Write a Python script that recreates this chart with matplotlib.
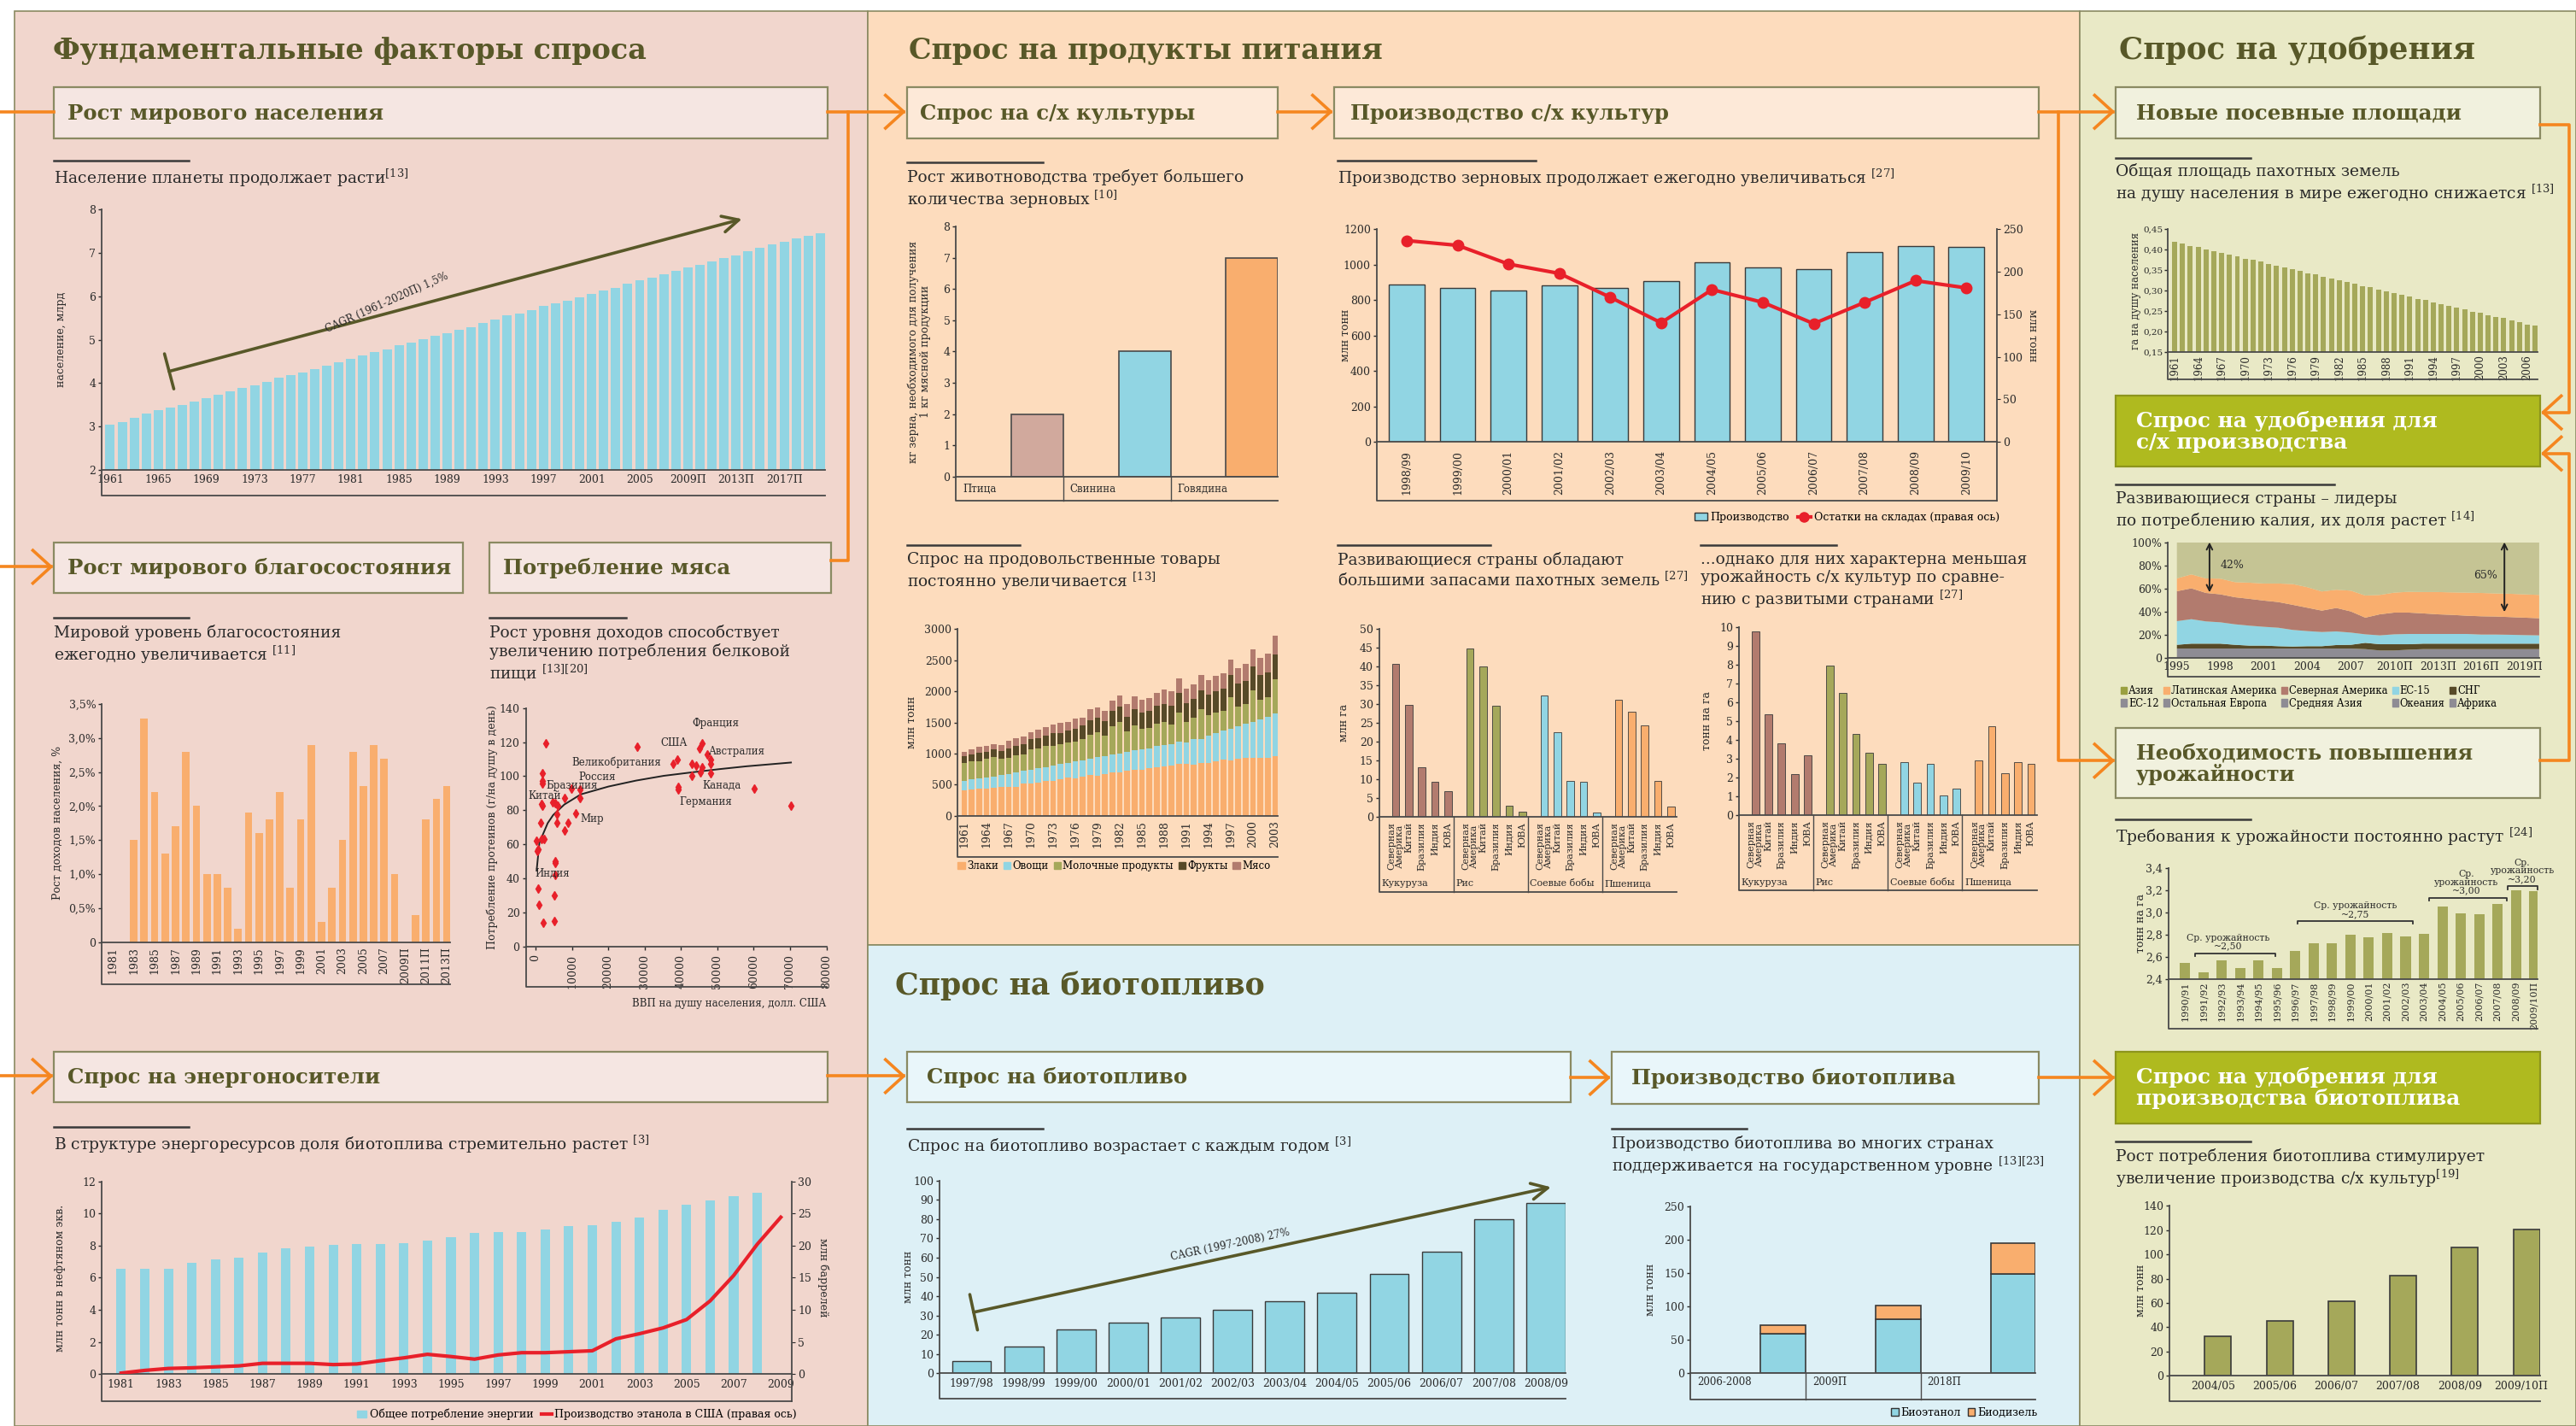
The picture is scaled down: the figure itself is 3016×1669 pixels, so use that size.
import numpy as np
import matplotlib
matplotlib.use("Agg")
import matplotlib.pyplot as plt
from matplotlib.patches import Rectangle, Patch
from matplotlib.lines import Line2D
from matplotlib.ticker import FuncFormatter

plt.rcParams['font.family'] = ['DejaVu Serif', 'DejaVu Sans']
plt.rcParams['mathtext.fontset'] = 'dejavuserif'
plt.rcParams['axes.linewidth'] = 1.3

# ---------------- data ----------------
pop_labels = ['1961', '1965', '1969', '1973', '1977', '1981', '1985', '1989', '1993', '1997',
              '2001', '2005', '2009П', '2013П', '2017П']
pop_values = [3.05, 3.11, 3.19, 3.29, 3.37, 3.43, 3.50, 3.58, 3.65, 3.73, 3.80, 3.88, 3.95, 4.03,
              4.12, 4.19, 4.25, 4.33, 4.40, 4.48, 4.55, 4.63, 4.72, 4.77, 4.87, 4.94, 5.02, 5.08,
              5.15, 5.23, 5.29, 5.38, 5.47, 5.56, 5.60, 5.68, 5.77, 5.84, 5.90, 5.98, 6.05, 6.13,
              6.19, 6.29, 6.37, 6.43, 6.50, 6.59, 6.67, 6.73, 6.80, 6.89, 6.94, 7.04, 7.12, 7.19,
              7.25, 7.33, 7.40, 7.45]

wealth_labels = ['1981', '1983', '1985', '1987', '1989', '1991', '1993', '1995', '1997', '1999',
                 '2001', '2003', '2005', '2007', '2009П', '2011П', '2013П']
wealth_growth = [0, 0, 1.5, 3.28, 2.2, 1.3, 1.7, 2.8, 2.0, 1.0, 1.0, 0.8, 0.2, 1.9, 1.6, 1.8, 2.2,
                 0.8, 1.8, 2.9, 0.3, 0.8, 1.5, 2.8, 2.3, 2.9, 2.7, 1.0, 0, 0.4, 1.8, 2.1, 2.3]

meat_gdp = [2890, 1825, 1825, 1825, 1673, 1825, 1520, 300, 600, 456, 2280, 1673, 608, 912, 2130,
            5170, 5170, 5320, 5320, 5320, 5780, 5475, 4715, 6080, 5780, 7910, 7910, 8970, 9890,
            10950, 12170, 12170, 27990, 37720, 38940, 39240, 39240, 43040, 42890, 44110, 45170,
            45930, 47150, 45330, 45930, 48060, 48060, 48060, 60080, 70270]
meat_protein = [119.3, 101.8, 97, 95.8, 83.5, 82.4, 72.8, 61.8, 57, 56, 63.2, 62.8, 34, 24.4, 13.6,
                14.8, 29.8, 41.7, 50, 48.8, 72.4, 83.9, 84.5, 82.4, 77.8, 68.2, 87.2, 72.8, 92.6,
                78, 87.2, 92.4, 117.5, 107, 109.5, 93.5, 92, 107, 100.2, 106, 116.2, 119.3, 112.7,
                102.2, 105, 109.8, 107, 101.8, 92.6, 82.6]
trend_gdp = [300, 1065, 3350, 4870, 7910, 12470, 20080, 27680, 35280, 42890, 50490, 58100, 70270]
trend_protein = [44.5, 60.9, 72.4, 77.2, 83.3, 89.3, 93.9, 97.4, 100.2, 102.2, 104.1, 105.8, 108.0]
meat_names = ['Франция', 'США', 'Австралия', 'Великобритания', 'Россия', 'Бразилия', 'Китай',
              'Мир', 'Канада', 'Германия', 'Индия']
meat_name_gdp = [49430, 38020, 55510, 22360, 17030, 9890, 2590, 15510, 51250, 46690, 4560]
meat_name_protein = [131, 119.4, 114.3, 108, 99.3, 94.3, 88.3, 74.7, 94.3, 84.9, 42.6]

energy_labels = ['1981', '1983', '1985', '1987', '1989', '1991', '1993', '1995', '1997', '1999',
                 '2001', '2003', '2005', '2007', '2009']
energy_total = [6.58, 6.53, 6.58, 6.95, 7.16, 7.27, 7.59, 7.85, 7.96, 8.06, 8.12, 8.12, 8.17, 8.33,
                8.54, 8.81, 8.86, 8.86, 9.02, 9.23, 9.28, 9.49, 9.76, 10.24, 10.55, 10.82, 11.08, 11.29]
ethanol_us = [0.18, 0.6, 0.9, 1.0, 1.15, 1.3, 1.7, 1.7, 1.7, 1.5, 1.6, 2.1, 2.55, 3.1, 2.75, 2.35,
              3.0, 3.35, 3.35, 3.5, 3.65, 5.5, 6.3, 7.2, 8.5, 11.4, 15.35, 20.2, 24.4]

meat_kinds = ['Птица', 'Свинина', 'Говядина']
grain_per_kg = [2, 4, 7]

grain_seasons = ['1998/99', '1999/00', '2000/01', '2001/02', '2002/03', '2003/04', '2004/05',
                 '2005/06', '2006/07', '2007/08', '2008/09', '2009/10']
grain_production = [887, 871, 855, 881, 871, 908, 1012, 982, 975, 1073, 1104, 1099]
grain_stocks = [236.6, 231, 209, 198, 170, 140, 179, 164, 139, 164, 189.5, 181]

food_labels = ['1961', '1964', '1967', '1970', '1973', '1976', '1979', '1982', '1985', '1988',
               '1991', '1994', '1997', '2000', '2003']
food_cereals = [402, 416, 430, 430, 444, 466, 466, 466, 512, 512, 526, 553, 553, 581, 608, 599,
                622, 649, 636, 663, 691, 691, 718, 732, 732, 759, 773, 787, 800, 828, 828, 819,
                841, 841, 869, 896, 883, 910, 937, 937, 937, 937, 956]
food_vegetables = [151, 165, 165, 178, 178, 183, 197, 224, 206, 220, 233, 220, 247, 247, 233, 270,
                   261, 261, 302, 288, 288, 302, 302, 316, 329, 329, 343, 343, 357, 357, 343, 407,
                   398, 453, 466, 480, 521, 535, 549, 576, 617, 659, 695]
food_dairy = [288, 288, 284, 302, 316, 261, 274, 288, 261, 329, 329, 343, 329, 329, 343, 329, 343,
              398, 398, 343, 466, 521, 343, 398, 343, 329, 370, 384, 316, 480, 343, 357, 480, 329,
              329, 316, 508, 316, 316, 508, 316, 316, 549]
food_fruits = [123, 110, 128, 110, 123, 137, 151, 151, 178, 165, 165, 178, 206, 178, 192, 206, 220,
               233, 247, 233, 247, 247, 233, 274, 261, 274, 288, 288, 302, 316, 302, 302, 302, 329,
               343, 357, 357, 370, 370, 384, 398, 398, 398]
food_meat = [69, 91, 96, 96, 96, 96, 123, 123, 123, 123, 137, 137, 137, 165, 137, 165, 137, 178,
             165, 165, 165, 178, 206, 206, 206, 206, 206, 233, 233, 233, 233, 233, 247, 233, 247,
             242, 247, 247, 274, 274, 274, 302, 302]

crop_groups = ['Кукуруза', 'Рис', 'Соевые бобы', 'Пшеница']
crop_countries = ['Северная\nАмерика', 'Китай', 'Бразилия', 'Индия', 'ЮВА']
arable_area = [[40.7, 29.9, 13.1, 9.3, 6.7],
               [44.8, 40.0, 29.6, 2.9, 1.2],
               [32.4, 22.6, 9.4, 9.2, 1.0],
               [31.2, 28.0, 24.4, 9.4, 2.7]]
crop_yield = [[9.74, 5.37, 3.82, 2.19, 3.19],
              [7.92, 6.51, 4.31, 3.29, 2.73],
              [2.79, 1.70, 2.72, 1.02, 1.38],
              [2.91, 4.73, 2.20, 2.82, 2.72]]

biofuel_seasons = ['1997/98', '1998/99', '1999/00', '2000/01', '2001/02', '2002/03', '2003/04',
                   '2004/05', '2005/06', '2006/07', '2007/08', '2008/09']
biofuel_demand = [6.4, 14.0, 23.0, 26.5, 28.9, 33.1, 37.3, 42.0, 51.6, 63.2, 79.9, 88.3]

biofuel_periods = ['2006-2008', '2009П', '2018П']
bioethanol = [60, 81, 149]
biodiesel = [12, 21, 46]

arable_years = ['1961', '1964', '1967', '1970', '1973', '1976', '1979', '1982', '1985', '1988',
                '1991', '1994', '1997', '2000', '2003', '2006']
arable_per_capita = [0.420, 0.416, 0.410, 0.408, 0.401, 0.397, 0.393, 0.389, 0.385, 0.379, 0.376,
                     0.372, 0.365, 0.361, 0.358, 0.353, 0.349, 0.343, 0.340, 0.334, 0.331, 0.326,
                     0.322, 0.317, 0.312, 0.309, 0.303, 0.299, 0.295, 0.291, 0.286, 0.280, 0.278,
                     0.271, 0.268, 0.264, 0.259, 0.255, 0.249, 0.247, 0.241, 0.236, 0.234, 0.228,
                     0.224, 0.218, 0.216]

potash_labels = ['1995', '1998', '2001', '2004', '2007', '2010П', '2013П', '2016П', '2019П']
# cumulative share (top edge of each layer), %
potash_other_top = [7.9, 7.9, 7.9, 7.9, 7.9, 7.9, 7.9, 7.9, 7.9, 7.9, 7.9, 7.9, 7.9, 7.4, 6.2, 6.2,
                    6.9, 7.4, 7.4, 7.4, 7.4, 7.4, 7.4, 7.4, 7.4, 7.4]
potash_cis_top = [11.1, 12.1, 12.1, 12.1, 11.1, 10.4, 10.4, 9.9, 9.6, 9.9, 9.9, 10.9, 11.1, 12.8,
                  11.6, 11.6, 11.6, 12.1, 12.1, 12.1, 12.1, 12.1, 12.1, 12.1, 12.1, 12.1]
potash_eu15_top = [31.6, 33.3, 31.4, 30.6, 28.9, 27.7, 26.7, 25.9, 24.0, 23.0, 22.2, 22.7, 21.7,
                   20.2, 19.3, 20.2, 20.5, 20.5, 20.5, 20.5, 20.5, 20.0, 20.0, 19.8, 19.5, 19.3]
potash_na_top = [57.5, 60.0, 56.0, 54.8, 52.3, 50.9, 49.4, 48.1, 45.7, 43.2, 40.7, 43.0, 40.0, 34.6,
                 37.5, 39.0, 39.0, 38.3, 37.5, 37.0, 36.3, 35.8, 35.6, 35.1, 34.6, 34.1]
potash_la_top = [68.6, 72.1, 68.6, 68.4, 65.4, 64.9, 64.2, 64.2, 63.7, 61.0, 57.3, 58.8, 58.0, 53.8,
                 54.3, 56.3, 57.0, 56.8, 56.8, 56.5, 56.3, 56.0, 55.6, 55.3, 54.8, 54.3]
potash_regions = ['Азия', 'Латинская Америка', 'Северная Америка', 'ЕС-15', 'СНГ',
                  'ЕС-12', 'Остальная Европа', 'Средняя Азия', 'Океания', 'Африка']

yield_seasons = ['1990/91', '1991/92', '1992/93', '1993/94', '1994/95', '1995/96', '1996/97',
                 '1997/98', '1998/99', '1999/00', '2000/01', '2001/02', '2002/03', '2003/04',
                 '2004/05', '2005/06', '2006/07', '2007/08', '2008/09', '2009/10П']
yield_required = [2.545, 2.455, 2.563, 2.50, 2.563, 2.50, 2.655, 2.717, 2.723, 2.794, 2.778, 2.815,
                  2.785, 2.809, 3.055, 2.994, 2.985, 3.077, 3.20, 3.194]

biocrop_seasons = ['2004/05', '2005/06', '2006/07', '2007/08', '2008/09', '2009/10П']
biocrop_use = [32.8, 45.5, 61.7, 82.6, 106, 120.8]

# ---------------- style ----------------
PINK, PEACH, SKY, KHAKI = '#f1d6cd', '#fddcbd', '#ddf0f6', '#e9e9c6'
PINK_BOX, PEACH_BOX, SKY_BOX, KHAKI_BOX = '#f5e6e2', '#fde9d8', '#e9f6fa', '#f1f1de'
TITLE = '#585828'
TXT = '#2a2a2a'
AX = '#4a4a4a'
BLUE = '#91d5e3'
ORANGE_BAR = '#f9ae6e'
BROWN = '#b27b6e'
OLIVE = '#a5a85a'
ROSE = '#d1a99d'
DARK = '#574a28'
RED = '#e8202a'
ORANGE = '#f5861f'
GREEN = '#afba1f'
GREY = '#8e8c94'

W0, H0 = 1568.0, 868.0


def P(x, y):
    return x / W0, 1 - y / H0


def R(x0, y0, x1, y1):
    return [x0 / W0, 1 - y1 / H0, (x1 - x0) / W0, (y1 - y0) / H0]


fig = plt.figure(figsize=(30.16, 16.69), dpi=100)
fig.patch.set_facecolor('white')


def box(x0, y0, x1, y1, fc, ec='#8a8a62', lw=1.4, z=0):
    fig.add_artist(Rectangle(P(x0, y1), (x1 - x0) / W0, (y1 - y0) / H0, transform=fig.transFigure,
                             facecolor=fc, edgecolor=ec, lw=lw, zorder=z))


def header(x0, y0, x1, y1, text, fc, color=TITLE, ec='#8a8a62', dx=10, size=17.6):
    box(x0, y0, x1, y1, fc, ec=ec, lw=1.6, z=1)
    fig.text(*P(x0 + dx, (y0 + y1) / 2 + 0.5), text, color=color, fontsize=size, fontweight='bold',
             ha='left', va='center', linespacing=1.05, zorder=2)


def subtitle(x0, x1, y, text):
    fig.add_artist(Line2D([x0 / W0, x1 / W0], [1 - y / H0] * 2, transform=fig.transFigure,
                          color='#3a3a3a', lw=1.8))
    fig.text(*P(x0, y + 4), text, fontsize=13.5, ha='left', va='top', color=TXT, linespacing=1.2)


def oline(pts):
    fig.add_artist(Line2D([p[0] / W0 for p in pts], [1 - p[1] / H0 for p in pts],
                          transform=fig.transFigure, color=ORANGE, lw=2.6))


def chev(x, y, d=1):
    oline([(x - 11 * d, y - 10), (x, y), (x - 11 * d, y + 10)])


def add_ax(x0, y0, x1, y1, lower=None, right=False):
    ax = fig.add_axes(R(x0, y0, x1, y1))
    ax.set_facecolor('none')
    ax.spines['top'].set_visible(False)
    ax.spines['right'].set_visible(False)
    for s in ('left', 'bottom'):
        ax.spines[s].set_color(AX)
    ax.tick_params(colors=TXT, labelsize=9, length=3, width=1, pad=2)
    ax.tick_params(axis='x', length=0, pad=4)
    if lower is not None:
        k = (lower - y1) / (y1 - y0)
        ax.plot([0, 0, 1], [0, -k, -k], transform=ax.transAxes, clip_on=False, color=AX, lw=1.3)
        if right:
            ax.plot([1, 1], [0, -k], transform=ax.transAxes, clip_on=False, color=AX, lw=1.3)
    ax.box_px = (x0, y0, x1, y1)
    return ax


def ylabel(ax, text, x, rot=90, size=9):
    x0, y0, x1, y1 = ax.box_px
    ax.text((x - x0) / (x1 - x0), 0.5, text, transform=ax.transAxes, rotation=rot,
            ha='center', va='center', fontsize=size, color=TXT, linespacing=1.1)


def comma(fmt):
    return FuncFormatter(lambda v, p: fmt.format(v).replace('.', ','))


# ---------------- background panels ----------------
box(9, 7, 528, 868, PINK, ec='#8a8a62', lw=1.2)
box(528, 7, 1266, 575, PEACH, ec='#8a8a62', lw=1.2)
box(528, 575, 1266, 868, SKY, ec='#8a8a62', lw=1.2)
box(1266, 7, 1568, 868, KHAKI, ec='#8a8a62', lw=1.2)

for x, y, t, s in [(32, 31, 'Фундаментальные факторы спроса', 24),
                   (553, 31, 'Спрос на продукты питания', 24),
                   (1290, 31, 'Спрос на удобрения', 25.5),
                   (545, 600, 'Спрос на биотопливо', 25)]:
    fig.text(*P(x, y), t, fontsize=s, fontweight='bold', color=TITLE, ha='left', va='center')

# ---------------- connectors ----------------
oline([(0, 68), (33, 68)])
oline([(504, 68), (550, 68)]); chev(550, 68)
oline([(516, 68), (516, 341), (506, 341)])
oline([(0, 345), (31, 345)]); chev(31, 345)
oline([(0, 655), (31, 655)]); chev(31, 655)
oline([(504, 655), (550, 655)]); chev(550, 655)
oline([(778, 68), (810, 68)]); chev(810, 68)
oline([(1241, 68), (1286, 68)]); chev(1286, 68)
oline([(1253, 68), (1253, 463), (1286, 463)]); chev(1286, 463)
oline([(956, 656), (979, 656)]); chev(979, 656)
oline([(1241, 656), (1286, 656)]); chev(1286, 656)
oline([(1546, 76), (1564, 76), (1564, 251), (1548, 251)]); chev(1548, 251, -1)
oline([(1546, 463), (1564, 463), (1564, 276), (1548, 276)]); chev(1548, 276, -1)

# ---------------- headers ----------------
header(33, 53, 504, 84, 'Рост мирового населения', PINK_BOX, dx=8)
header(33, 330, 282, 361, 'Рост мирового благосостояния', PINK_BOX, dx=8)
header(298, 330, 506, 361, 'Потребление мяса', PINK_BOX, dx=8)
header(33, 640, 504, 671, 'Спрос на энергоносители', PINK_BOX, dx=8)
header(552, 53, 778, 84, 'Спрос на с/х культуры', PEACH_BOX, dx=8)
header(812, 53, 1241, 84, 'Производство с/х культур', PEACH_BOX)
header(1288, 53, 1546, 84, 'Новые посевные площади', KHAKI_BOX, dx=12)
header(1288, 241, 1546, 284, 'Спрос на удобрения для\nс/х производства', GREEN, color='white',
       ec='#8d951c', dx=12, size=17.8)
header(1288, 443, 1546, 486, 'Необходимость повышения\nурожайности', KHAKI_BOX, dx=12, size=17.3)
header(1288, 640, 1546, 684, 'Спрос на удобрения для\nпроизводства биотоплива', GREEN,
       color='white', ec='#8d951c', dx=12, size=17.8)
header(552, 640, 956, 671, 'Спрос на биотопливо', SKY_BOX, dx=12)
header(981, 640, 1241, 672, 'Производство биотоплива', SKY_BOX, dx=12)

# ---------------- subtitles ----------------
subtitle(33, 115, 98, 'Население планеты продолжает расти$^{[13]}$')
subtitle(33, 115, 376, 'Мировой уровень благосостояния\nежегодно увеличивается $^{[11]}$')
subtitle(298, 381, 376, 'Рост уровня доходов способствует\nувеличению потребления белковой\nпищи $^{[13][20]}$')
subtitle(33, 115, 686, 'В структуре энергоресурсов доля биотоплива стремительно растет $^{[3]}$')
subtitle(552, 635, 99, 'Рост животноводства требует большего\nколичества зерновых $^{[10]}$')
subtitle(814, 935, 98, 'Производство зерновых продолжает ежегодно увеличиваться $^{[27]}$')
subtitle(552, 621, 332, 'Спрос на продовольственные товары\nпостоянно увеличивается $^{[13]}$')
subtitle(814, 907, 332, 'Развивающиеся страны обладают\nбольшими запасами пахотных земель $^{[27]}$')
subtitle(1035, 1118, 332, '...однако для них характерна меньшая\nурожайность с/х культур по сравне-\nнию с развитыми странами $^{[27]}$')
subtitle(552, 635, 687, 'Спрос на биотопливо возрастает с каждым годом $^{[3]}$')
subtitle(981, 1063, 687, 'Производство биотоплива во многих странах\nподдерживается на государственном уровне $^{[13][23]}$')
subtitle(1288, 1370, 96, 'Общая площадь пахотных земель\nна душу населения в мире ежегодно снижается $^{[13]}$')
subtitle(1288, 1421, 295, 'Развивающиеся страны – лидеры\nпо потреблению калия, их доля растет $^{[14]}$')
subtitle(1288, 1370, 499, 'Требования к урожайности постоянно растут $^{[24]}$')
subtitle(1288, 1370, 695, 'Рост потребления биотоплива стимулирует\nувеличение производства с/х культур$^{[19]}$')

# ---------------- population ----------------
ax = add_ax(62, 127.5, 502, 286, lower=301.5)
x = np.arange(len(pop_values))
ax.bar(x, pop_values, width=0.78, color=BLUE)
ax.set_xlim(-0.69, len(pop_values) - 0.63)
ax.set_ylim(2, 8)
ax.set_yticks(range(2, 9))
ax.set_xticks(x[::4])
ax.set_xticklabels(pop_labels)
ylabel(ax, 'население, млрд', 37)
ax.annotate('', xy=(52.5, 7.78), xytext=(4.9, 4.27),
            arrowprops=dict(arrowstyle=']->, widthA=0.45, lengthA=0', color=TITLE, lw=2.6,
                            mutation_scale=34, shrinkA=0, shrinkB=0))
ax.text(23.0, 5.85, 'CAGR (1961-2020П) 1,5%', rotation=24, ha='center', va='center', fontsize=8.5,
        color=TXT, rotation_mode='anchor')

# ---------------- wealth ----------------
ax = add_ax(62, 428.5, 274, 573.5, lower=599)
x = np.arange(len(wealth_growth))
ax.bar(x, wealth_growth, width=0.72, color=ORANGE_BAR)
ax.set_xlim(-1.06, len(wealth_growth) - 0.68)
ax.set_ylim(0, 3.5)
ax.set_yticks(np.arange(0, 3.51, 0.5))
ax.yaxis.set_major_formatter(FuncFormatter(lambda v, p: '0' if v == 0 else f'{v:.1f}%'.replace('.', ',')))
ax.set_xticks(x[::2])
ax.set_xticklabels(wealth_labels, rotation=90, va='top')
ylabel(ax, 'Рост доходов населения, %', 35)

# ---------------- meat ----------------
ax = add_ax(320, 431, 503, 576, lower=600.5)
ax.plot(trend_gdp, trend_protein, color='#222222', lw=1.4)
ax.plot(meat_gdp, meat_protein, 'd', color=RED, ms=5.5, mec=RED)
for n, gx, gy in zip(meat_names, meat_name_gdp, meat_name_protein):
    ax.text(gx, gy, n, fontsize=8.5, ha='center', va='center', color=TXT)
ax.set_xlim(-2700, 80000)
ax.set_ylim(0, 140)
ax.set_yticks(range(0, 141, 20))
ax.set_xticks(range(0, 80001, 10000))
ax.set_xticklabels([str(v) for v in range(0, 80001, 10000)], rotation=90, va='top')
ax.tick_params(axis='x', length=3)
ylabel(ax, 'Потребление протеинов (г/на душу в день)', 299.5)
fig.text(*P(503, 611), 'ВВП на душу населения, долл. США', fontsize=8.5, ha='right', va='center', color=TXT)

# ---------------- energy ----------------
ax = add_ax(62, 719, 482, 836.5, lower=853, right=True)
x = np.arange(len(ethanol_us))
ax.bar(np.arange(len(energy_total)), energy_total, width=0.4, color=BLUE)
ax.set_xlim(-0.82, len(ethanol_us) - 0.53)
ax.set_ylim(0, 12)
ax.set_yticks(range(0, 13, 2))
ax.set_xticks(x[::2])
ax.set_xticklabels(energy_labels)
ylabel(ax, 'млн тонн в нефтяном экв.', 36.4)
ax2 = ax.twinx()
ax2.set_facecolor('none')
for s in ('top', 'left', 'bottom'):
    ax2.spines[s].set_visible(False)
ax2.spines['right'].set_color(AX)
ax2.plot(x, ethanol_us, color=RED, lw=3)
ax2.set_ylim(0, 30)
ax2.set_yticks(range(0, 31, 5))
ax2.tick_params(colors=TXT, labelsize=9, length=3, pad=2)
ylabel(ax, 'млн баррелей', 501, rot=270)
fig.legend([Patch(color=BLUE), Line2D([], [], color=RED, lw=3)],
           ['Общее потребление энергии', 'Производство этанола в США (правая ось)'],
           loc='center right', bbox_to_anchor=P(485, 861), ncol=2, frameon=False, fontsize=9,
           handlelength=0.9, handletextpad=0.3, columnspacing=0.8, borderpad=0, borderaxespad=0)

# ---------------- grain per kg meat ----------------
ax = add_ax(582, 138, 778, 290, lower=305)
ax.bar(np.arange(3) + 0.757, grain_per_kg, width=0.485, color=[ROSE, BLUE, ORANGE_BAR],
       edgecolor='#4a4a4a', lw=1.2)
ax.set_xlim(0, 3)
ax.set_ylim(0, 8)
ax.set_yticks(range(0, 9))
ax.set_xticks([])
k = (305 - 290) / (290 - 138)
for i, name in enumerate(meat_kinds):
    ax.text(i + 0.06, -0.03, name, transform=ax.get_xaxis_transform(), ha='left', va='top',
            fontsize=8.5, color=TXT)
    if i > 0:
        ax.plot([i, i], [0, -k], transform=ax.get_xaxis_transform(), clip_on=False, color=AX, lw=1)
ylabel(ax, 'кг зерна, необходимого для получения\n1 кг мясной продукции', 559.5)

# ---------------- grain production ----------------
ax = add_ax(838, 139.5, 1215.5, 269, lower=304.7, right=True)
x = np.arange(len(grain_production))
ax.bar(x, grain_production, width=0.7, color=BLUE, edgecolor='#3a3a3a', lw=1)
ax.set_xlim(-0.59, len(x) - 0.4)
ax.set_ylim(0, 1200)
ax.set_yticks(range(0, 1201, 200))
ax.set_xticks(x)
ax.set_xticklabels(grain_seasons, rotation=90, va='top')
ax.tick_params(axis='x', pad=7)
ylabel(ax, 'млн тонн', 819)
ax2 = ax.twinx()
ax2.set_facecolor('none')
for s in ('top', 'left', 'bottom'):
    ax2.spines[s].set_visible(False)
ax2.spines['right'].set_color(AX)
ax2.plot(x, grain_stocks, color=RED, lw=3, marker='o', ms=9)
ax2.set_ylim(0, 250)
ax2.set_yticks(range(0, 251, 50))
ax2.tick_params(colors=TXT, labelsize=9, length=3, pad=2)
ylabel(ax, 'млн тонн', 1237, rot=270)
fig.legend([Patch(facecolor=BLUE, edgecolor='#333333'),
            Line2D([], [], color=RED, lw=3, marker='o', ms=8)],
           ['Производство', 'Остатки на складах (правая ось)'],
           loc='center right', bbox_to_anchor=P(1217, 315), ncol=2, frameon=False, fontsize=9,
           handlelength=1.2, handletextpad=0.3, columnspacing=0.8, borderpad=0, borderaxespad=0)

# ---------------- food demand ----------------
ax = add_ax(583, 383, 778, 496.5, lower=521.5)
x = np.arange(len(food_cereals))
bottom = np.zeros(len(x))
food_colors = [ORANGE_BAR, BLUE, OLIVE, DARK, BROWN]
for vals, col in zip([food_cereals, food_vegetables, food_dairy, food_fruits, food_meat], food_colors):
    ax.bar(x, vals, width=0.77, bottom=bottom, color=col)
    bottom += np.array(vals)
ax.set_xlim(-0.89, len(x) - 0.61)
ax.set_ylim(0, 3000)
ax.set_yticks(range(0, 3001, 500))
ax.set_xticks(x[::3])
ax.set_xticklabels(food_labels, rotation=90, va='top')
ylabel(ax, 'млн тонн', 555)
fig.legend([Patch(color=c) for c in food_colors],
           ['Злаки', 'Овощи', 'Молочные продукты', 'Фрукты', 'Мясо'],
           loc='center left', bbox_to_anchor=P(583, 527), ncol=5, frameon=False, fontsize=8.5,
           handlelength=0.7, handletextpad=0.2, columnspacing=0.5, borderpad=0, borderaxespad=0)


# ---------------- arable land / yields in developing countries ----------------
def group_chart(box_px, lower, data, ymax, ystep, label, label_x, group_y):
    ax = add_ax(*box_px, lower=lower)
    x0, y0, x1, y1 = box_px
    colors = [BROWN, OLIVE, BLUE, ORANGE_BAR]
    for g, vals in enumerate(data):
        xs = g * 5 + 1.1 + 0.88 * np.arange(len(vals))
        ax.bar(xs, vals, width=0.5, color=colors[g], edgecolor='#3a3a3a', lw=0.6)
        for xb, name in zip(xs, crop_countries):
            ax.text(xb, -0.03, name, transform=ax.get_xaxis_transform(), rotation=90, ha='center',
                    va='top', fontsize=8, color=TXT, linespacing=0.9)
        ax.text(g * 5 + 0.15, -(group_y - y1) / (y1 - y0), crop_groups[g],
                transform=ax.get_xaxis_transform(), ha='left', va='center', fontsize=8, color=TXT)
        if g > 0:
            ax.plot([g * 5, g * 5], [0, -(lower - y1) / (y1 - y0)], transform=ax.get_xaxis_transform(),
                    clip_on=False, color=AX, lw=1)
    ax.set_xlim(0, 20)
    ax.set_ylim(0, ymax)
    ax.set_yticks(np.arange(0, ymax + 0.01, ystep))
    ax.set_xticks([])
    ylabel(ax, label, label_x)


group_chart((839.5, 383, 1020.5, 497), 543, arable_area, 50, 5, 'млн га', 818, 538)
group_chart((1058.5, 381.6, 1239.7, 496), 542, crop_yield, 10, 1, 'тонн на га', 1039, 537)

# ---------------- biofuel demand ----------------
ax = add_ax(572, 718.5, 953, 836, lower=851.6)
x = np.arange(len(biofuel_demand))
ax.bar(x, biofuel_demand, width=0.75, color=BLUE, edgecolor='#3a3a3a', lw=1)
ax.set_xlim(-0.61, len(x) - 0.62)
ax.set_ylim(0, 100)
ax.set_yticks(range(0, 101, 10))
ax.set_xticks(x)
ax.set_xticklabels(biofuel_seasons)
ylabel(ax, 'млн тонн', 553)
ax.annotate('', xy=(11.1, 96.5), xytext=(0.04, 31.7),
            arrowprops=dict(arrowstyle=']->, widthA=0.45, lengthA=0', color=TITLE, lw=2.6,
                            mutation_scale=34, shrinkA=0, shrinkB=0))
ax.text(4.95, 66.5, 'CAGR (1997-2008) 27%', rotation=12, ha='center', va='center', fontsize=8.5,
        color=TXT)

# ---------------- biofuel production ----------------
ax = add_ax(1029, 734.4, 1239, 836, lower=852)
xc = np.arange(3) + 0.805
ax.bar(xc, bioethanol, width=0.39, color=BLUE, edgecolor='#3a3a3a', lw=1.2)
ax.bar(xc, biodiesel, width=0.39, bottom=bioethanol, color=ORANGE_BAR, edgecolor='#3a3a3a', lw=1.2)
ax.set_xlim(0, 3)
ax.set_ylim(0, 250)
ax.set_yticks(range(0, 251, 50))
ax.set_xticks([])
k = (852 - 836) / (836 - 734.4)
for i, name in enumerate(biofuel_periods):
    ax.text(i + 0.06, -0.05, name, transform=ax.get_xaxis_transform(), ha='left', va='center',
            fontsize=8.5, color=TXT)
    if i > 0:
        ax.plot([i, i], [0, -k], transform=ax.get_xaxis_transform(), clip_on=False, color=AX, lw=1)
ylabel(ax, 'млн тонн', 1004.5)
fig.legend([Patch(facecolor=BLUE, edgecolor='#333333'), Patch(facecolor=ORANGE_BAR, edgecolor='#333333')],
           ['Биоэтанол', 'Биодизель'], loc='center right', bbox_to_anchor=P(1240, 860), ncol=2,
           frameon=False, fontsize=9, handlelength=0.7, handletextpad=0.2, columnspacing=0.6,
           borderpad=0, borderaxespad=0)

# ---------------- arable land per capita ----------------
ax = add_ax(1319.6, 139.6, 1544.7, 214.5, lower=231)
x = np.arange(len(arable_per_capita))
ax.bar(x, arable_per_capita, width=0.65, color=OLIVE)
ax.set_xlim(-0.86, len(x) - 0.67)
ax.set_ylim(0.15, 0.45)
ax.set_yticks(np.arange(0.15, 0.451, 0.05))
ax.yaxis.set_major_formatter(comma('{:.2f}'))
ax.tick_params(axis='y', labelsize=7.5, pad=1)
ax.set_xticks(x[::3])
ax.set_xticklabels(arable_years, rotation=90, va='top')
ax.tick_params(axis='x', pad=2, labelsize=8.5)
ylabel(ax, 'га на душу населения', 1300, size=8.5)

# ---------------- potash ----------------
ax = add_ax(1319.6, 330, 1545.6, 400.3, lower=411.7)
x = np.arange(len(potash_la_top))
tops = np.vstack([np.zeros(len(x)), potash_other_top, potash_cis_top, potash_eu15_top,
                  potash_na_top, potash_la_top, np.full(len(x), 100.0)])
ax.stackplot(x, np.diff(tops, axis=0), colors=[GREY, DARK, BLUE, BROWN, ORANGE_BAR, '#c5c494'])
ax.set_xlim(-0.62, len(x) - 1)
ax.set_ylim(0, 100)
ax.set_yticks(range(0, 101, 20))
ax.yaxis.set_major_formatter(FuncFormatter(lambda v, p: '0' if v == 0 else f'{int(v)}%'))
ax.set_xticks(x[::3])
ax.set_xticklabels(potash_labels)
ax.tick_params(axis='x', pad=3)
arr = dict(arrowstyle='<->', color='#222222', lw=1.4, mutation_scale=12, shrinkA=0, shrinkB=0)
ax.annotate('', xy=(2.25, 56.5), xytext=(2.25, 100), arrowprops=arr)
ax.annotate('', xy=(22.6, 39.5), xytext=(22.6, 100), arrowprops=arr)
ax.text(3.8, 80, '42%', fontsize=9, ha='center', va='center', color=TXT)
ax.text(21.3, 71, '65%', fontsize=9, ha='center', va='center', color=TXT)
leg_colors = ['#9aa040', ORANGE_BAR, BROWN, BLUE, DARK, GREY, GREY, GREY, GREY, GREY]
order = [0, 5, 1, 6, 2, 7, 3, 8, 4, 9]
fig.legend([Patch(color=leg_colors[i]) for i in order], [potash_regions[i] for i in order],
           loc='upper left', bbox_to_anchor=P(1291, 417), ncol=5, frameon=False, fontsize=8.3,
           handlelength=0.6, handletextpad=0.15, columnspacing=0.5, labelspacing=0.15,
           borderpad=0, borderaxespad=0)

# ---------------- yield requirements ----------------
ax = add_ax(1320, 528.3, 1544.7, 595.8, lower=626)
x = np.arange(len(yield_required))
ax.bar(x, yield_required, width=0.56, color=OLIVE)
ax.set_xlim(-0.9, len(x) - 0.81)
ax.set_ylim(2.4, 3.4)
ax.set_yticks(np.arange(2.4, 3.41, 0.2))
ax.yaxis.set_major_formatter(comma('{:.1f}'))
ax.set_xticks(x)
ax.set_xticklabels(yield_seasons, rotation=90, va='top')
ax.tick_params(axis='x', pad=2, labelsize=8)
ylabel(ax, 'тонн на га', 1303)
for (a, b, y, tx, ty, t) in [(0.56, 4.9, 2.63, 2.35, 2.655, 'Ср. урожайность\n~2,50'),
                             (6.1, 12.4, 2.92, 9.27, 2.945, 'Ср. урожайность\n~2,75'),
                             (13.3, 17.5, 3.13, 15.3, 3.155, 'Ср.\nурожайность\n~3,00'),
                             (17.55, 19.2, 3.233, 18.35, 3.26, 'Ср.\nурожайность\n~3,20')]:
    ax.plot([a, a, b, b], [y - 0.025, y, y, y - 0.025], color='#333333', lw=1.3, clip_on=False)
    ax.text(tx, ty, t, ha='center', va='bottom', fontsize=7.8, color=TXT, linespacing=0.95)

# ---------------- biofuel crops ----------------
ax = add_ax(1320.6, 734, 1546, 837.5, lower=853)
ax.bar(np.arange(len(biocrop_use)) + 0.785, biocrop_use, width=0.43, color=OLIVE,
       edgecolor='#3a3a3a', lw=1.2)
ax.set_xlim(0, len(biocrop_use))
ax.set_ylim(0, 140)
ax.set_yticks(range(0, 141, 20))
ax.set_xticks(np.arange(len(biocrop_use)) + 0.7)
ax.set_xticklabels(biocrop_seasons)
ylabel(ax, 'млн тонн', 1303)

fig.savefig('out.png', dpi=100, facecolor='white')
